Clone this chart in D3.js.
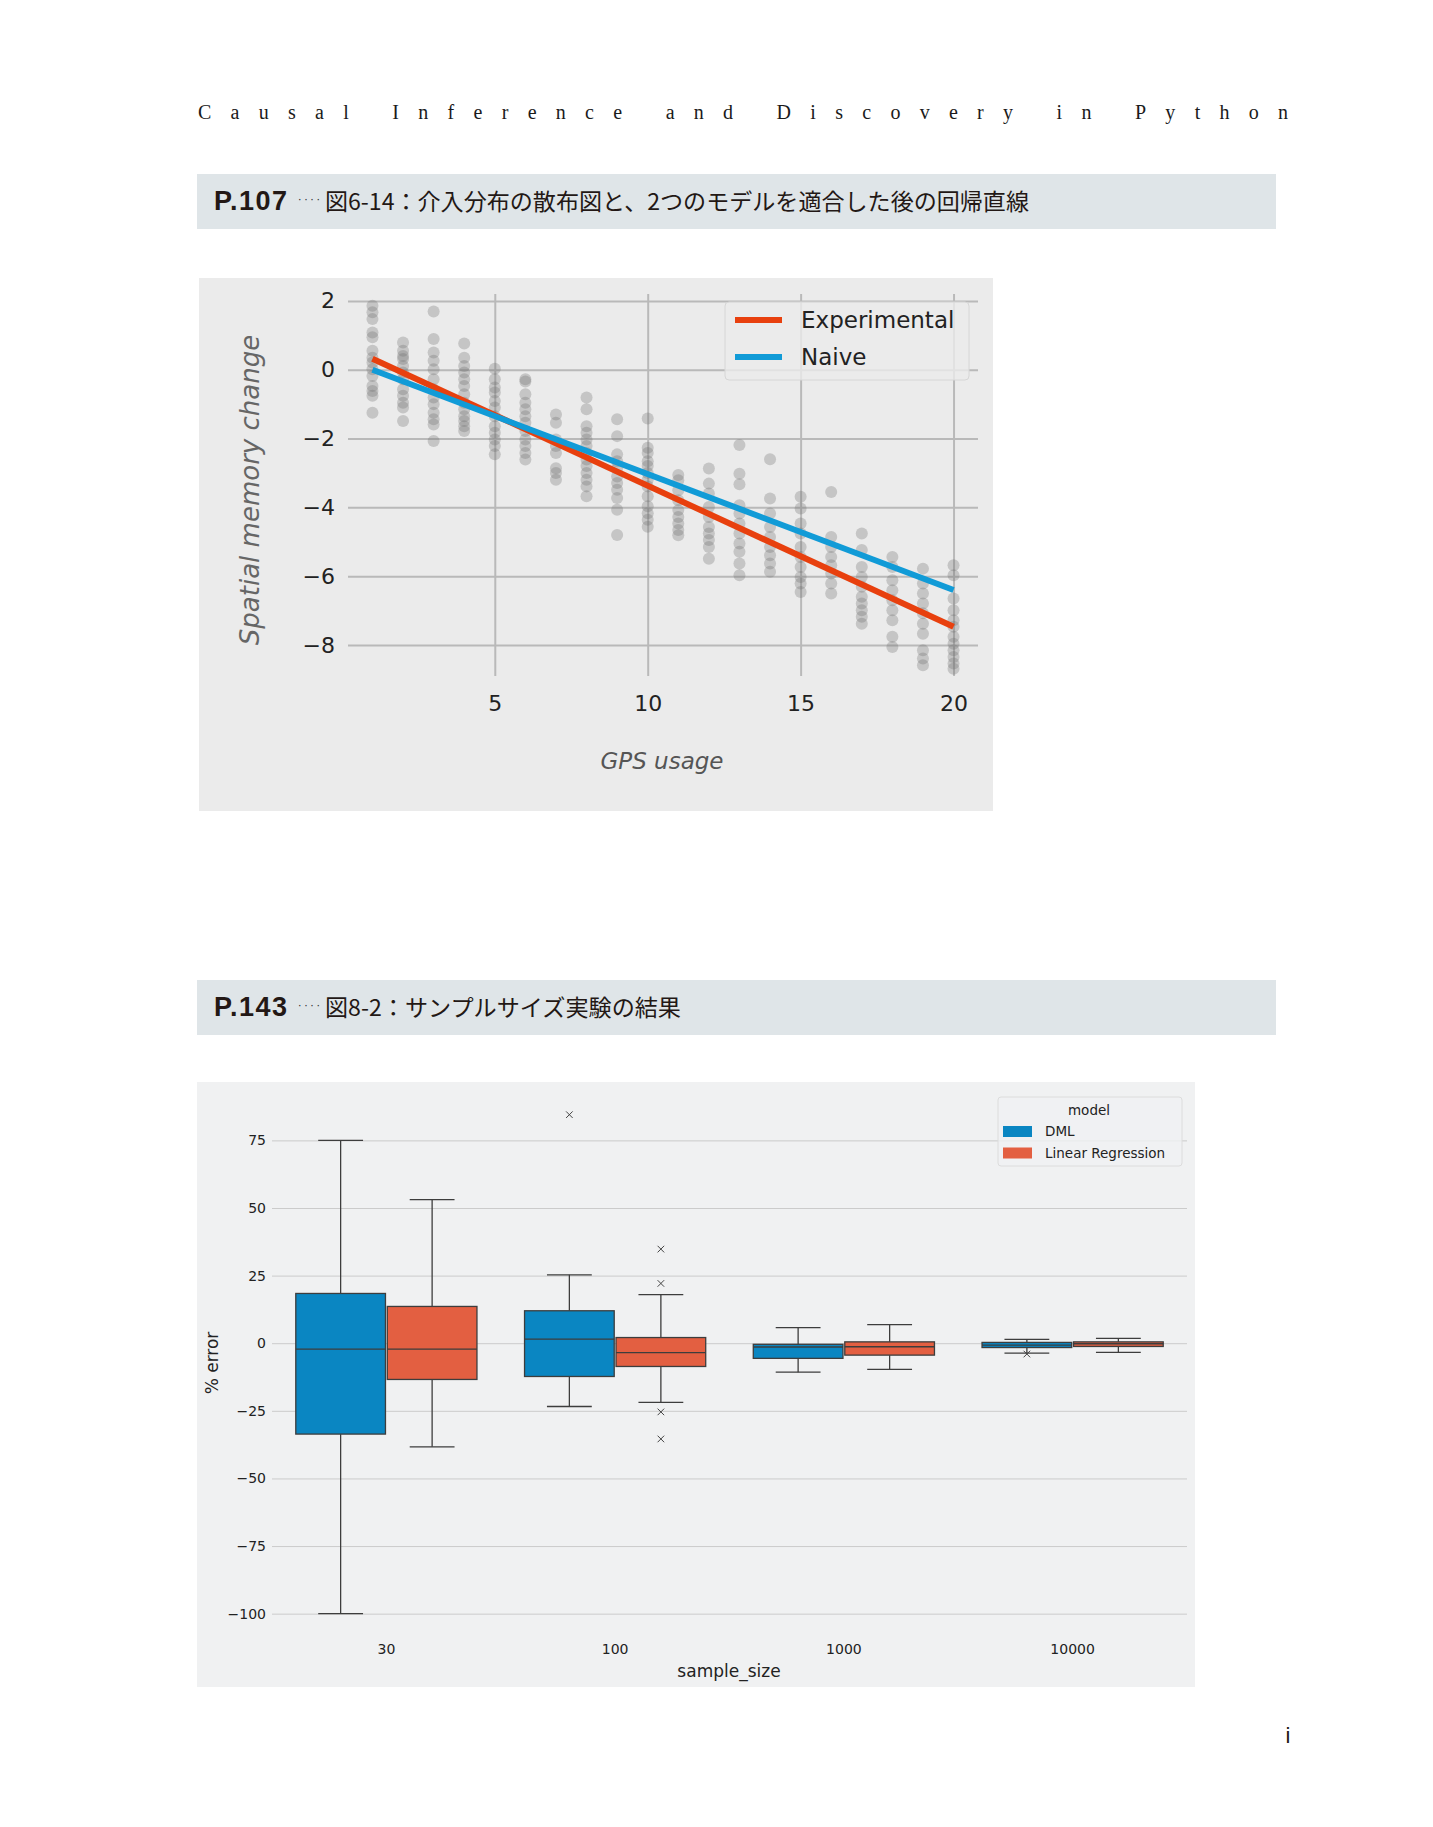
<!DOCTYPE html>
<html>
<head>
<meta charset="utf-8">
<script src="https://cdn.jsdelivr.net/npm/d3@7"></script>
<style>
body { margin: 0; background: #fff; }
svg { display: block; }
</style>
</head>
<body>
<svg id="page" width="1433" height="1827"></svg>
<script>
// --- figure 6-14 data: GPS usage vs spatial memory change ---
const gpsUsage = [1, 2, 3, 4, 5, 6, 7, 8, 9, 10, 11, 12, 13, 14, 15, 16, 17, 18, 19, 20];
const memoryChange = [
    [1.86, 1.67, 1.47, 1.08, 0.94, 0.55, 0.35, 0.21, 0.01, -0.18, -0.47, -0.62, -0.76, -1.25],
    [0.79, 0.55, 0.40, 0.31, 0.11, -0.08, -0.28, -0.57, -0.76, -0.96, -1.1, -1.49],
    [1.69, 0.89, 0.50, 0.26, 0.01, -0.28, -0.57, -0.81, -1.0, -1.25, -1.44, -1.59, -2.07],
    [0.76, 0.35, 0.11, -0.08, -0.28, -0.47, -0.71, -0.96, -1.15, -1.35, -1.49, -1.64, -1.78],
    [0.03, -0.28, -0.52, -0.66, -0.91, -1.1, -1.35, -1.64, -1.83, -2.03, -2.22, -2.46],
    [-0.28, -0.34, -0.71, -0.96, -1.15, -1.35, -1.54, -1.78, -2.03, -2.22, -2.42, -2.61],
    [-1.30, -1.54, -2.03, -2.22, -2.42, -2.86, -3.0, -3.2],
    [-0.81, -1.15, -1.64, -1.83, -2.03, -2.22, -2.42, -2.61, -2.8, -3.0, -3.2, -3.39, -3.68],
    [-1.44, -1.93, -2.46, -2.66, -2.86, -3.1, -3.29, -3.49, -3.73, -4.07, -4.8],
    [-1.42, -2.27, -2.42, -2.66, -2.8, -3.0, -3.2, -3.39, -3.68, -3.97, -4.17, -4.36, -4.56],
    [-3.06, -3.21, -3.5, -3.79, -4.08, -4.28, -4.47, -4.66, -4.81],
    [-2.87, -3.31, -3.6, -3.99, -4.28, -4.57, -4.76, -4.95, -5.15, -5.49],
    [-2.19, -3.02, -3.33, -3.94, -4.18, -4.47, -4.76, -5.05, -5.29, -5.63, -5.97],
    [-2.6, -3.74, -4.18, -4.57, -4.86, -5.15, -5.39, -5.63, -5.87],
    [-3.69, -4.03, -4.47, -4.76, -5.15, -5.44, -5.73, -6.02, -6.21, -6.46],
    [-3.55, -4.86, -5.15, -5.44, -5.68, -5.92, -6.21, -6.5],
    [-4.76, -5.24, -5.73, -6.02, -6.31, -6.6, -6.79, -6.99, -7.18, -7.38],
    [-5.44, -5.73, -6.12, -6.41, -6.7, -6.99, -7.28, -7.76, -8.06],
    [-5.78, -6.21, -6.5, -6.79, -7.08, -7.38, -7.67, -8.15, -8.39, -8.59],
    [-5.68, -5.97, -6.65, -6.99, -7.28, -7.47, -7.76, -7.96, -8.15, -8.35, -8.54, -8.69]
];
const fitGps = [1, 20];
const experimentalFit = [0.32, -7.47];
const naiveFit = [0.0, -6.4];
const scatterXTicks = [5, 10, 15, 20];
const scatterYTicks = [2, 0, -2, -4, -6, -8];

// --- figure 8-2 data: % error by sample size ---
const sampleSizes = ["30", "100", "1000", "10000"];
const models = ["DML", "Linear Regression"];
const dmlLow = [-100, -23.4, -10.7, -3.7];
const dmlQ1 = [-33.6, -12.3, -5.6, -1.6];
const dmlMedian = [-2.2, 1.5, -1.4, -0.7];
const dmlQ3 = [18.4, 12.0, -0.4, 0.3];
const dmlHigh = [75, 25.3, 5.8, 1.4];
const dmlOutliers = [[], [84.5], [], [-4.0]];
const lrLow = [-38.3, -21.9, -9.7, -3.4];
const lrQ1 = [-13.4, -8.6, -4.4, -1.2];
const lrMedian = [-2.2, -3.5, -1.3, -0.2];
const lrQ3 = [13.6, 2.1, 0.5, 0.5];
const lrHigh = [53.1, 18.0, 6.9, 1.8];
const lrOutliers = [[], [34.8, 22.1, -25.4, -35.4], [], []];
const errorTicks = [75, 50, 25, 0, -25, -50, -75, -100];

const svg = d3.select("#page");

// page header
svg.append("text").attr("x", 198).attr("y", 119)
    .attr("textLength", 1090).attr("lengthAdjust", "spacing")
    .style("font-family", "Liberation Serif").style("font-size", "20px").style("fill", "#1a1a1a")
    .text("Causal Inference and Discovery in Python");

function drawBand(top, page, caption, captionLength) {
    svg.append("rect").attr("x", 197).attr("y", top).attr("width", 1079).attr("height", 55).attr("fill", "#dfe5e8");
    svg.append("text").attr("x", 214).attr("y", top + 36)
        .style("font-family", "Liberation Sans").style("font-weight", "bold").style("font-size", "27px")
        .style("letter-spacing", "1.5px").style("fill", "#231815")
        .text(page);
    svg.append("text").attr("x", 298).attr("y", top + 29).attr("textLength", 22)
        .style("font-family", "DejaVu Sans").style("font-size", "11px").style("fill", "#333")
        .text("····");
    svg.append("text").attr("x", 325).attr("y", top + 36)
        .attr("textLength", captionLength).attr("lengthAdjust", "spacingAndGlyphs")
        .style("font-family", "Noto Sans CJK JP").style("font-size", "23px").style("fill", "#231815")
        .text(caption);
}

drawBand(174, "P.107", "図6-14：介入分布の散布図と、2つのモデルを適合した後の回帰直線", 704);
drawBand(980, "P.143", "図8-2：サンプルサイズ実験の結果", 356);

// ---------- scatter chart ----------
svg.append("rect").attr("x", 199).attr("y", 278).attr("width", 794).attr("height", 533).attr("fill", "#ebebeb");

let xScale = d3.scaleLinear().domain([0.2, 20.8]).range([348, 978]);
let yScale = d3.scaleLinear().domain([-8.9, 2.2]).range([676, 294]);

let xAxis = svg.append("g").attr("transform", "translate(0,676)")
    .call(d3.axisBottom(xScale).tickValues(scatterXTicks).tickSize(-382).tickPadding(19));
let yAxis = svg.append("g").attr("transform", "translate(348,0)")
    .call(d3.axisLeft(yScale).tickValues(scatterYTicks).tickSize(-630).tickPadding(13));
[xAxis, yAxis].forEach(a => {
    a.select(".domain").remove();
    a.selectAll("line").attr("stroke", "#b9b9b9").attr("stroke-width", 2);
    a.selectAll("text").style("font-family", "DejaVu Sans").style("font-size", "22px").style("fill", "#222");
});

let points = [];
memoryChange.forEach((col, i) => col.forEach(v => points.push({x: gpsUsage[i], y: v})));
svg.append("g").selectAll("circle").data(points).join("circle")
    .attr("cx", d => xScale(d.x)).attr("cy", d => yScale(d.y)).attr("r", 6)
    .attr("fill", "#6e6e6e").attr("fill-opacity", 0.3);

let fitLine = d3.line().x(d => xScale(d[0])).y(d => yScale(d[1]));
svg.append("path").datum(fitGps.map((g, i) => [g, experimentalFit[i]])).attr("d", fitLine)
    .attr("stroke", "#e8400e").attr("stroke-width", 6).attr("fill", "none");
svg.append("path").datum(fitGps.map((g, i) => [g, naiveFit[i]])).attr("d", fitLine)
    .attr("stroke", "#119bd7").attr("stroke-width", 6).attr("fill", "none");

svg.append("text").attr("x", 662).attr("y", 769).attr("text-anchor", "middle")
    .style("font-family", "DejaVu Sans").style("font-style", "italic").style("font-size", "23px").style("fill", "#555")
    .text("GPS usage");
svg.append("text").attr("transform", "translate(259,490) rotate(-90)").attr("text-anchor", "middle")
    .style("font-family", "DejaVu Sans").style("font-style", "italic").style("font-size", "26px").style("fill", "#666")
    .text("Spatial memory change");

// legend
let leg1 = svg.append("g");
leg1.append("rect").attr("x", 725).attr("y", 302).attr("width", 244).attr("height", 78).attr("rx", 4)
    .attr("fill", "#ebebeb").attr("fill-opacity", 0.8).attr("stroke", "#d6d6d6");
[["Experimental", "#e8400e"], ["Naive", "#119bd7"]].forEach((d, i) => {
    leg1.append("line").attr("x1", 735).attr("x2", 782).attr("y1", 320 + i * 37).attr("y2", 320 + i * 37)
        .attr("stroke", d[1]).attr("stroke-width", 6);
    leg1.append("text").attr("x", 801).attr("y", 328 + i * 37)
        .style("font-family", "DejaVu Sans").style("font-size", "23px").style("fill", "#222").text(d[0]);
});

// ---------- box plot chart ----------
svg.append("rect").attr("x", 197).attr("y", 1082).attr("width", 998).attr("height", 605).attr("fill", "#f0f1f2");

let band = d3.scaleBand().domain(sampleSizes).range([272, 1187]);
let hue = d3.scaleBand().domain(models).range([band.bandwidth() * 0.1, band.bandwidth() * 0.9]);
let errScale = d3.scaleLinear().domain([-109, 94]).range([1638, 1089]);

let eAxis = svg.append("g").attr("transform", "translate(272,0)")
    .call(d3.axisLeft(errScale).tickValues(errorTicks).tickSize(-915).tickPadding(6));
eAxis.select(".domain").remove();
eAxis.selectAll("line").attr("stroke", "#cbcbcb").attr("stroke-width", 1);
let sAxis = svg.append("g").attr("transform", "translate(0,1638)")
    .call(d3.axisBottom(band).tickSize(0).tickPadding(6));
sAxis.select(".domain").remove();
[eAxis, sAxis].forEach(a => a.selectAll("text").style("font-family", "DejaVu Sans").style("font-size", "14px").style("fill", "#222"));

let boxes = [];
sampleSizes.forEach((s, i) => {
    boxes.push({size: s, model: "DML", low: dmlLow[i], q1: dmlQ1[i], med: dmlMedian[i], q3: dmlQ3[i], high: dmlHigh[i], out: dmlOutliers[i], color: "#0a86c2"});
    boxes.push({size: s, model: "Linear Regression", low: lrLow[i], q1: lrQ1[i], med: lrMedian[i], q3: lrQ3[i], high: lrHigh[i], out: lrOutliers[i], color: "#e35f41"});
});

let boxW = hue.bandwidth() * 0.98;
let stroke = "#3d3d3d";
boxes.forEach(b => {
    let cx = band(b.size) + hue(b.model) + hue.bandwidth() / 2;
    let g = svg.append("g");
    g.append("line").attr("x1", cx).attr("x2", cx).attr("y1", errScale(b.high)).attr("y2", errScale(b.q3)).attr("stroke", stroke).attr("stroke-width", 1.3);
    g.append("line").attr("x1", cx).attr("x2", cx).attr("y1", errScale(b.q1)).attr("y2", errScale(b.low)).attr("stroke", stroke).attr("stroke-width", 1.3);
    [b.high, b.low].forEach(v => g.append("line").attr("x1", cx - boxW / 4).attr("x2", cx + boxW / 4)
        .attr("y1", errScale(v)).attr("y2", errScale(v)).attr("stroke", stroke).attr("stroke-width", 1.3));
    g.append("rect").attr("x", cx - boxW / 2).attr("width", boxW)
        .attr("y", errScale(b.q3)).attr("height", errScale(b.q1) - errScale(b.q3))
        .attr("fill", b.color).attr("stroke", stroke).attr("stroke-width", 1.3);
    g.append("line").attr("x1", cx - boxW / 2).attr("x2", cx + boxW / 2)
        .attr("y1", errScale(b.med)).attr("y2", errScale(b.med)).attr("stroke", stroke).attr("stroke-width", 1.3);
    g.selectAll("path").data(b.out).join("path")
        .attr("d", d3.symbol(d3.symbolTimes, 30))
        .attr("transform", d => "translate(" + cx + "," + errScale(d) + ")")
        .attr("stroke", "#444").attr("stroke-width", 1).attr("fill", "none");
});

svg.append("text").attr("x", 729).attr("y", 1677).attr("text-anchor", "middle")
    .style("font-family", "DejaVu Sans").style("font-size", "17px").style("fill", "#222").text("sample_size");
svg.append("text").attr("transform", "translate(218,1363) rotate(-90)").attr("text-anchor", "middle")
    .style("font-family", "DejaVu Sans").style("font-size", "17px").style("fill", "#222").text("% error");

let leg2 = svg.append("g");
leg2.append("rect").attr("x", 998).attr("y", 1097).attr("width", 184).attr("height", 69).attr("rx", 3)
    .attr("fill", "#f0f1f2").attr("fill-opacity", 0.8).attr("stroke", "#dcdcdc");
leg2.append("text").attr("x", 1089).attr("y", 1115).attr("text-anchor", "middle")
    .style("font-family", "DejaVu Sans").style("font-size", "13.5px").style("fill", "#222").text("model");
[["DML", "#0a86c2"], ["Linear Regression", "#e35f41"]].forEach((d, i) => {
    leg2.append("rect").attr("x", 1003).attr("y", 1126 + i * 21.5).attr("width", 29).attr("height", 11).attr("fill", d[1]);
    leg2.append("text").attr("x", 1045).attr("y", 1136 + i * 21.5)
        .style("font-family", "DejaVu Sans").style("font-size", "13.5px").style("fill", "#222").text(d[0]);
});

// page number
svg.append("text").attr("x", 1288).attr("y", 1743).attr("text-anchor", "middle")
    .style("font-family", "Liberation Sans").style("font-size", "22px").style("fill", "#231815").text("i");
</script>
</body>
</html>
